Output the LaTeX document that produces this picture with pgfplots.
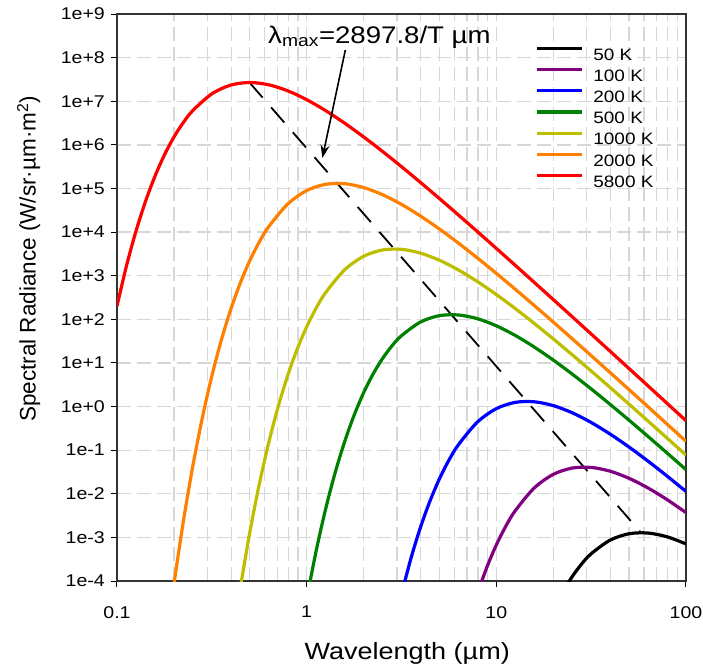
\documentclass[border=0pt]{standalone}
\usepackage{fontspec}
\setmainfont{Liberation Sans}[FakeStretch=1.15]
\newfontfamily\ylabfont{Liberation Sans}
\usepackage{pgfplots}
\pgfplotsset{compat=1.18}
\usetikzlibrary{arrows.meta}
\definecolor{cpurple}{RGB}{128,0,128}
\definecolor{cblue}{RGB}{0,0,255}
\definecolor{cgreen}{RGB}{0,128,0}
\definecolor{cyel}{RGB}{190,190,0}
\definecolor{corange}{RGB}{255,128,0}
\definecolor{cred}{RGB}{255,0,0}
\definecolor{cgrid}{RGB}{215,215,215}
\begin{document}
\begin{tikzpicture}
\begin{axis}[
  scale only axis, width=569bp, height=567bp,
  xmode=log, ymode=log,
  xmin=0.1, xmax=100, ymin=1e-4, ymax=1e9,
  xtick={0.1,1,10,100}, xticklabels={0.1,1,10,100},
  ytick={1e-4,1e-3,1e-2,1e-1,1e0,1e1,1e2,1e3,1e4,1e5,1e6,1e7,1e8,1e9},
  yticklabels={1e-4,1e-3,1e-2,1e-1,1e+0,1e+1,1e+2,1e+3,1e+4,1e+5,1e+6,1e+7,1e+8,1e+9},
  xtick pos=bottom, ytick pos=left,
  tick align=outside, major tick length=6bp, minor tick length=0bp,
  tick style={black, line width=1bp},
  xmajorgrids=true, xminorgrids=true, ymajorgrids=true,
  major grid style={draw=cgrid, line width=1.3bp, dash pattern=on 14bp off 6bp},
  minor grid style={draw=cgrid, line width=1.3bp, dash pattern=on 14bp off 6bp},
  axis line style={draw=black!80, line width=1.2bp},
  ticklabel style={font=\fontsize{17bp}{20bp}\selectfont, inner sep=0pt},
  xticklabel style={yshift=-19bp},
  yticklabel style={xshift=-6bp},
  xlabel={Wavelength (µm)},
  xlabel style={font=\fontsize{23.5bp}{28bp}\selectfont, at={(rel axis cs:0.51,-0.127)}, anchor=center},
  ylabel={Spectral Radiance (W/sr·µm·m\textsuperscript{2})},
  ylabel style={font=\ylabfont\fontsize{22.5bp}{27bp}\selectfont, at={(rel axis cs:-0.155,0.568)}, anchor=center},
  clip mode=individual,
  legend cell align=left,
  legend style={at={(rel axis cs:0.7346,0.948)}, anchor=north west, draw=none, fill=none,
    inner sep=0pt, font=\fontsize{16.5bp}{20bp}\selectfont,
    nodes={inner sep=0pt, text height=16.5bp, text depth=4.7bp},
    /tikz/every odd column/.append style={column sep=10bp}},
  legend image code/.code={\draw[#1] (0bp,5.9bp) -- (45bp,5.9bp);},
]
\addplot[black, dash pattern=on 20bp off 13bp, line width=1.8bp, forget plot] coordinates {(0.49960,2.688e7) (57.956,1.28e-3)};

\addplot[black, line width=3.2bp, smooth] coordinates {(19.953,2.054e-5) (22.387,5.542e-5) (25.119,1.261e-4) (28.184,2.465e-4) (31.623,4.208e-4) (39.811,8.653e-4) (50.119,1.213e-3) (63.096,1.258e-3) (79.433,1.034e-3) (100,7.102e-4)};
\addlegendentry{50 K}
\addplot[cpurple, line width=3.2bp, smooth] coordinates {(7.9433,5.122e-5) (8.9125,2.065e-4) (10,6.720e-4) (11.220,1.807e-3) (12.589,4.097e-3) (15.849,1.360e-2) (19.953,2.783e-2) (25.119,3.888e-2) (31.623,4.023e-2) (39.811,3.298e-2) (50.119,2.262e-2) (63.096,1.357e-2) (79.433,7.358e-3) (100,3.704e-3)};
\addlegendentry{100 K}
\addplot[cblue, line width=3.2bp, smooth] coordinates {(3.1623,4.966e-5) (3.5481,3.315e-4) (3.9811,1.691e-3) (4.4668,6.784e-3) (5.0119,2.199e-2) (5.6234,5.890e-2) (6.3096,0.1331) (7.9433,0.4393) (10,0.8954) (12.589,1.247) (15.849,1.286) (19.953,1.052) (25.119,0.7206) (31.623,0.4316) (39.811,0.2339) (50.119,0.1177) (63.096,5.599e-2) (79.433,2.556e-2) (100,1.131e-2)};
\addlegendentry{200 K}
\addplot[cgreen, line width=3.2bp, smooth] coordinates {(1,3.791e-5) (1.1220,4.874e-4) (1.2589,4.458e-3) (1.4125,3.010e-2) (1.5849,0.1551) (1.7783,0.6285) (1.9953,2.054) (2.2387,5.542) (2.5119,12.61) (2.8184,24.65) (3.1623,42.08) (3.9811,86.53) (5.0119,121.3) (6.3096,125.8) (7.9433,103.4) (10,71.02) (12.589,42.64) (15.849,23.15) (19.953,11.66) (25.119,5.554) (31.623,2.538) (39.811,1.1232) (50.119,0.4858) (63.096,0.2061) (79.433,8.627e-2) (100,3.572e-2)};
\addlegendentry{500 K}
\addplot[cyel, line width=3.2bp, smooth] coordinates {(0.44668,6.872e-5) (0.50119,1.283e-3) (0.56234,1.638e-2) (0.63096,0.1488) (0.70795,0.9991) (0.79433,5.122) (0.89125,20.65) (1,67.20) (1.1220,180.7) (1.2589,409.7) (1.5849,1360) (1.9953,2783) (2.5119,3888) (3.1623,4023) (3.9811,3298) (5.0119,2262) (6.3096,1357) (7.9433,735.8) (10,370.4) (12.589,176.4) (15.849,80.54) (19.953,35.65) (25.119,15.40) (31.623,6.537) (39.811,2.736) (50.119,1.1325) (63.096,0.4650) (79.433,0.1897) (100,0.07700)};
\addlegendentry{1000 K}
\addplot[corange, line width=3.2bp, smooth] coordinates {(0.19953,8.268e-5) (0.22387,2.347e-3) (0.25119,4.345e-2) (0.28184,0.5503) (0.31623,4.966) (0.35481,33.15) (0.39811,169.1) (0.44668,678.4) (0.50119,2199) (0.56234,5890) (0.63096,1.331e4) (0.79433,4.393e4) (1,8.954e4) (1.2589,1.247e5) (1.5849,1.286e5) (1.9953,1.052e5) (2.5119,7.206e4) (3.1623,4.316e4) (3.9811,2.339e4) (5.0119,1.177e4) (6.3096,5599) (7.9433,2556) (10,1131) (12.589,488.6) (15.849,207.3) (19.953,86.77) (25.119,35.91) (31.623,14.74) (39.811,6.013) (50.119,2.441) (63.096,0.9862) (79.433,0.3974) (100,0.1597)};
\addlegendentry{2000 K}
\addplot[cred, line width=3.2bp, smooth] coordinates {(0.1,200.7) (0.11220,1676) (0.12589,1.043e4) (0.14125,4.999e4) (0.15849,1.898e5) (0.17783,5.856e5) (0.19953,1.501e6) (0.22387,3.263e6) (0.25119,6.122e6) (0.31623,1.477e7) (0.39811,2.348e7) (0.50119,2.688e7) (0.63096,2.383e7) (0.79433,1.735e7) (1,1.088e7) (1.2589,6.100e6) (1.5849,3.148e6) (1.9953,1.527e6) (2.5119,7.070e5) (3.1623,3.162e5) (3.9811,1.377e5) (5.0119,5.882e4) (6.3096,2.473e4) (7.9433,1.027e4) (10,4230) (12.589,1729) (15.849,703.0) (19.953,284.5) (25.119,114.7) (31.623,46.15) (39.811,18.52) (50.119,7.423) (63.096,2.971) (79.433,1.187) (100,0.4742)};
\addlegendentry{5800 K}

\draw[black, line width=1.6bp, -{Stealth[length=13bp, width=9bp]}] (axis cs:1.6,1.5e8) -- (axis cs:1.21,5e5);
\node[anchor=base, font=\fontsize{24bp}{29bp}\selectfont, inner sep=0pt] at (axis cs:2.42,2.16e8) {λ\textsubscript{max}=2897.8/T µm};
\path (rel axis cs:-0.2056,-0.1517) rectangle (rel axis cs:1.0299,1.0247);
\end{axis}
\end{tikzpicture}
\end{document}
